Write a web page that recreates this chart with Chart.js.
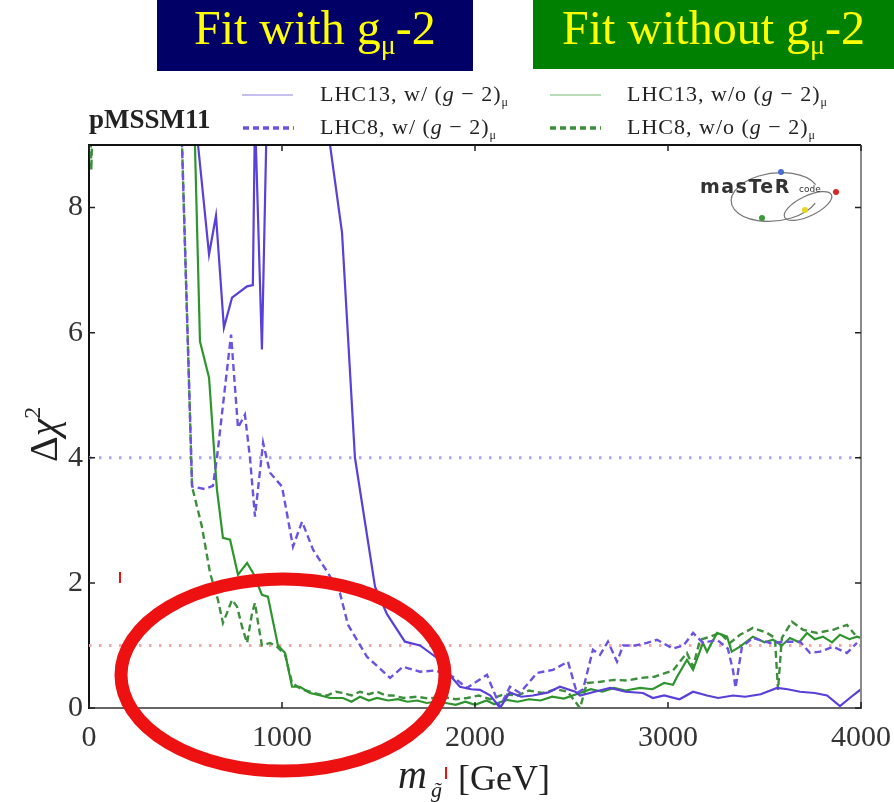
<!DOCTYPE html>
<html><head><meta charset="utf-8">
<script src="https://cdn.jsdelivr.net/npm/chart.js@4.4.1/dist/chart.umd.min.js"></script>
<style>html,body{margin:0;padding:0;background:#fff;overflow:hidden}canvas{display:block}</style>
</head><body>
<canvas id="c" width="894" height="802"></canvas>
<script>
// ---------- data ----------
const xTicks = [0, 1000, 2000, 3000, 4000];
const yTicks = [0, 2, 4, 6, 8];
const refLevels = [4, 1];               // dotted Δχ² = 4 (blue) and Δχ² = 1 (pink)
const seriesLabels = ['LHC13, w/ ', 'LHC8, w/ ', 'LHC13, w/o ', 'LHC8, w/o '];

const lhc13WithX = [540,565,622,658,699,741,819,849,860,896,922,1230,1249,1311,1378,1482,1544,1637,1715,1803,1860,1922,1980,2026,2080,2130,2180,2240,2300,2380,2440,2520,2544,2620,2700,2780,2870,2922,2980,3060,3130,3202,3260,3337,3400,3480,3565,3620,3684,3760,3824,3891,3950,4000];
const lhc13WithY = [9.6,9.0,7.25,7.87,6.08,6.56,6.74,6.76,9.5,5.73,9.6,9.6,9.0,7.6,4.0,1.94,1.5,1.06,1.0,0.8,0.56,0.34,0.3,0.29,0.2,0.0,0.25,0.18,0.2,0.25,0.34,0.26,0.2,0.26,0.32,0.26,0.24,0.16,0.2,0.14,0.26,0.2,0.16,0.2,0.18,0.22,0.32,0.3,0.26,0.24,0.2,0.03,0.18,0.3];

const lhc8WithX = [470,482,534,600,642,663,700,736,772,808,834,860,902,938,1000,1057,1104,1161,1238,1300,1342,1440,1560,1627,1715,1793,1886,1958,2062,2130,2181,2233,2321,2404,2482,2528,2560,2611,2648,2689,2736,2767,2830,2891,2943,3026,3080,3130,3181,3254,3310,3337,3350,3383,3440,3528,3617,3684,3736,3788,3855,3927,3979];
const lhc8WithY = [9.6,9.0,3.54,3.5,3.55,4.0,5.0,5.97,4.48,4.69,4.0,3.06,4.24,3.76,3.54,2.58,2.98,2.53,2.16,1.84,1.33,0.82,0.48,0.66,0.58,0.6,0.5,0.32,0.53,0.02,0.34,0.24,0.56,0.61,0.74,0.24,0.3,0.93,0.85,1.06,0.74,1.0,1.0,1.04,1.09,0.95,1.0,1.2,1.04,1.09,0.95,0.6,0.32,0.98,1.12,1.04,1.06,1.06,0.88,0.9,0.98,0.88,1.04];

const lhc13WithoutX = [540,549,575,622,653,663,694,731,772,819,850,896,927,979,1016,1052,1093,1145,1200,1250,1316,1360,1404,1450,1492,1550,1600,1650,1700,1750,1800,1850,1900,1950,2000,2060,2100,2165,2220,2280,2340,2400,2460,2544,2600,2660,2720,2780,2855,2920,2980,3026,3047,3098,3130,3181,3202,3254,3306,3330,3373,3440,3500,3544,3590,3632,3680,3720,3760,3803,3850,3891,3940,3979,4000];
const lhc13WithoutY = [9.6,9.0,5.86,5.28,3.9,3.49,2.72,2.69,2.13,2.32,2.16,1.81,1.78,1.0,0.88,0.34,0.34,0.24,0.2,0.16,0.16,0.1,0.18,0.12,0.16,0.12,0.14,0.1,0.12,0.08,0.1,0.08,0.05,0.1,0.05,0.12,0.06,0.13,0.1,0.14,0.12,0.18,0.15,0.24,0.3,0.26,0.32,0.28,0.32,0.3,0.4,0.37,0.5,0.77,0.61,1.04,0.9,1.2,1.14,0.9,0.98,1.14,1.05,1.09,1.0,1.12,1.05,1.2,1.1,1.14,1.05,1.17,1.1,1.14,1.12];

const lhc8WithoutX = [5,12,20,470,482,534,585,627,668,694,715,741,767,793,819,845,860,876,896,938,974,1016,1052,1100,1145,1190,1233,1280,1316,1360,1404,1450,1492,1540,1575,1630,1700,1760,1830,1900,1960,2020,2080,2150,2220,2280,2350,2420,2480,2544,2580,2650,2720,2790,2855,2930,3026,3098,3130,3166,3218,3269,3321,3373,3440,3513,3554,3570,3590,3642,3700,3772,3855,3927,3969];
const lhc8WithoutY = [9.6,8.6,9.6,9.6,9.0,3.54,2.9,2.16,1.73,1.36,1.52,1.73,1.62,1.3,1.04,1.52,1.68,1.36,1.0,1.04,0.98,0.85,0.4,0.3,0.26,0.22,0.2,0.26,0.24,0.2,0.26,0.22,0.26,0.2,0.2,0.16,0.18,0.15,0.18,0.14,0.16,0.2,0.14,0.22,0.2,0.28,0.24,0.3,0.26,0.0,0.4,0.42,0.45,0.44,0.48,0.5,0.6,0.88,0.66,1.09,1.14,1.2,1.04,1.17,1.28,1.2,1.12,0.29,1.12,1.38,1.25,1.2,1.25,1.33,1.17];

// ---------- helpers ----------
const pts = (xs, ys) => xs.map((x, i) => ({x, y: ys[i]}));
const SERIF = '"Liberation Serif", "DejaVu Serif", serif';
const BLUE = '#5a3fd8', BLUE_D = '#6d52e2', GREEN = '#2e952e', GREEN_D = '#3d8f3d';

function rich(ctx, parts, x, y, spacing) {
  let cx = x;
  ctx.letterSpacing = (spacing || 0) + 'px';
  for (const p of parts) {
    ctx.font = p.font; if (p.color) ctx.fillStyle = p.color;
    ctx.fillText(p.t, cx, y + (p.dy || 0));
    cx += ctx.measureText(p.t).width;
  }
  ctx.letterSpacing = '0px';
  return cx;
}

const overlay = {
  id: 'overlay',
  afterDraw(chart) {
    const ctx = chart.ctx, a = chart.chartArea, xs = chart.scales.x, ys = chart.scales.y;
    ctx.save();
    // frame: top & right
    ctx.lineWidth = 2;
    ctx.strokeStyle = '#111';
    ctx.beginPath(); ctx.moveTo(a.left - 1, a.top); ctx.lineTo(a.right, a.top); ctx.stroke();
    ctx.strokeStyle = '#8a8a8a';
    ctx.beginPath(); ctx.moveTo(a.right, a.top); ctx.lineTo(a.right, a.bottom); ctx.stroke();
    // inward tick marks
    ctx.strokeStyle = '#222'; ctx.lineWidth = 1.5;
    for (const v of xTicks) {
      const px = xs.getPixelForValue(v);
      ctx.beginPath(); ctx.moveTo(px, a.bottom); ctx.lineTo(px, a.bottom - 6); ctx.moveTo(px, a.top); ctx.lineTo(px, a.top + 6); ctx.stroke();
    }
    for (const v of yTicks) {
      const py = ys.getPixelForValue(v);
      ctx.beginPath(); ctx.moveTo(a.left, py); ctx.lineTo(a.left + 6, py); ctx.moveTo(a.right, py); ctx.lineTo(a.right - 6, py); ctx.stroke();
    }

    // banners
    ctx.fillStyle = '#000066'; ctx.fillRect(157, 0, 316, 71);
    ctx.fillStyle = '#008000'; ctx.fillRect(533, 0, 361, 69);
    ctx.textBaseline = 'alphabetic'; ctx.textAlign = 'left';
    const Y = '#ffff00';
    rich(ctx, [{t: 'Fit with g', font: `48px ${SERIF}`, color: Y}, {t: 'μ', font: `28px ${SERIF}`, dy: 10}, {t: '-2', font: `48px ${SERIF}`}], 194, 44);
    rich(ctx, [{t: 'Fit without g', font: `48px ${SERIF}`, color: Y}, {t: 'μ', font: `28px ${SERIF}`, dy: 10}, {t: '-2', font: `48px ${SERIF}`}], 562, 44);

    // legend
    ctx.fillStyle = '#222';
    ctx.font = `bold 27px ${SERIF}`;
    ctx.fillText('pMSSM11', 89, 128);
    const ds = chart.data.datasets;
    const ent = [
      {d: ds[0], x: 242, y: 95, tx: 320, ty: 101, pale: true},
      {d: ds[1], x: 243, y: 128, tx: 320, ty: 134, pale: false},
      {d: ds[2], x: 550, y: 95, tx: 627, ty: 101, pale: true},
      {d: ds[3], x: 550, y: 128, tx: 627, ty: 134, pale: false}
    ];
    ent.forEach((e, i) => {
      ctx.save();
      ctx.strokeStyle = e.d.borderColor;
      if (e.pale) { ctx.globalAlpha = 0.45; ctx.lineWidth = 1.5; ctx.setLineDash([]); }
      else { ctx.lineWidth = 3.5; ctx.setLineDash([6, 4]); }
      ctx.beginPath(); ctx.moveTo(e.x, e.y); ctx.lineTo(e.x + 51, e.y); ctx.stroke();
      ctx.restore();
      rich(ctx, [{t: seriesLabels[i] + '(', font: `22px ${SERIF}`, color: '#222'}, {t: 'g', font: `italic 22px ${SERIF}`}, {t: ' − 2)', font: `22px ${SERIF}`}, {t: 'μ', font: `12px ${SERIF}`, dy: 5}], e.tx, e.ty, 1);
    });

    // y axis title  Δχ²
    ctx.save();
    ctx.translate(57, 462); ctx.rotate(-Math.PI / 2);
    rich(ctx, [{t: 'Δ', font: `40px ${SERIF}`, color: '#222'}, {t: 'χ', font: `italic 40px ${SERIF}`}, {t: '2', font: `24px ${SERIF}`, dy: -17}], 0, 0);
    ctx.restore();
    // x axis title
    rich(ctx, [{t: 'm', font: `italic 40px ${SERIF}`, color: '#222'}], 398, 788);
    rich(ctx, [{t: 'g̃', font: `italic 22px ${SERIF}`, color: '#222'}], 431, 797);
    rich(ctx, [{t: '[GeV]', font: `36px ${SERIF}`, color: '#222'}], 458, 790);

    // mastercode logo
    ctx.save();
    ctx.strokeStyle = '#777'; ctx.lineWidth = 1.2;
    ctx.beginPath(); ctx.ellipse(775, 197, 44, 24, -0.12, 0.15 * Math.PI, 1.9 * Math.PI); ctx.stroke();
    ctx.beginPath(); ctx.ellipse(808, 206, 26, 10, -0.45, 0, 2 * Math.PI); ctx.stroke();
    ctx.fillStyle = '#333';
    ctx.letterSpacing = '1.5px';
    ctx.font = `bold 19px "DejaVu Sans", sans-serif`;
    ctx.fillText('masTeR', 700, 193);
    ctx.letterSpacing = '0px';
    ctx.font = `9px "DejaVu Sans", sans-serif`;
    ctx.fillText('code', 799, 192);
    const dots = [['#4a6fd0', 781, 172], ['#dd2222', 836, 192], ['#3a9a3a', 762, 218], ['#e8d820', 805, 210]];
    for (const [c, x, y] of dots) { ctx.fillStyle = c; ctx.beginPath(); ctx.arc(x, y, 3, 0, 2 * Math.PI); ctx.fill(); }
    ctx.restore();

    // red annotation ellipse and marks
    ctx.strokeStyle = '#ee1111'; ctx.lineWidth = 13;
    ctx.beginPath(); ctx.ellipse(283, 675, 162, 96, 0, 0, 2 * Math.PI); ctx.stroke();
    ctx.lineWidth = 2;
    ctx.beginPath(); ctx.moveTo(120, 572); ctx.lineTo(120, 583); ctx.moveTo(446, 767); ctx.lineTo(446, 779); ctx.stroke();
    ctx.restore();
  }
};

const refDs = [
  {label: 'ref4', data: [{x: 0, y: refLevels[0]}, {x: 4000, y: refLevels[0]}], borderColor: '#a9a4f5', borderWidth: 3, borderDash: [2.5, 7.5], pointRadius: 0},
  {label: 'ref1', data: [{x: 0, y: refLevels[1]}, {x: 4000, y: refLevels[1]}], borderColor: '#f2a8a8', borderWidth: 3, borderDash: [2.5, 7.5], pointRadius: 0}
];

new Chart(document.getElementById('c'), {
  type: 'line',
  data: {
    datasets: [
      {label: 'LHC13 w/', data: pts(lhc13WithX, lhc13WithY), borderColor: BLUE, borderWidth: 2.2},
      {label: 'LHC8 w/', data: pts(lhc8WithX, lhc8WithY), borderColor: BLUE_D, borderWidth: 2.4, borderDash: [7, 4]},
      {label: 'LHC13 w/o', data: pts(lhc13WithoutX, lhc13WithoutY), borderColor: GREEN, borderWidth: 2.2},
      {label: 'LHC8 w/o', data: pts(lhc8WithoutX, lhc8WithoutY), borderColor: GREEN_D, borderWidth: 2.4, borderDash: [7, 4]},
      ...refDs
    ]
  },
  options: {
    responsive: false, animation: false, devicePixelRatio: 1,
    layout: {padding: {top: 145, right: 33, left: 0, bottom: 0}},
    elements: {point: {radius: 0}, line: {tension: 0, fill: false}},
    plugins: {legend: {display: false}, tooltip: {enabled: false}},
    scales: {
      x: {
        type: 'linear', min: 0, max: 4000,
        afterFit(s) { s.height = 94; s.paddingLeft = 0; s.paddingRight = 0; },
        afterBuildTicks(s) { s.ticks = xTicks.map(v => ({value: v})); },
        ticks: {stepSize: 1000, autoSkip: false, maxRotation: 0, padding: 12, color: '#333', font: {family: SERIF, size: 30}, callback: v => String(v)},
        grid: {display: true, drawOnChartArea: false, drawTicks: false},
        border: {display: true, color: '#666', width: 2}
      },
      y: {
        type: 'linear', min: 0, max: 9,
        afterFit(s) { s.width = 89; s.paddingTop = 0; s.paddingBottom = 0; },
        afterBuildTicks(s) { s.ticks = yTicks.map(v => ({value: v})); },
        ticks: {stepSize: 2, includeBounds: false, padding: 6, color: '#333', font: {family: SERIF, size: 30}, callback: v => String(v)},
        grid: {display: true, drawOnChartArea: false, drawTicks: false},
        border: {display: true, color: '#111', width: 2}
      }
    }
  },
  plugins: [overlay]
});
</script>
</body></html>
